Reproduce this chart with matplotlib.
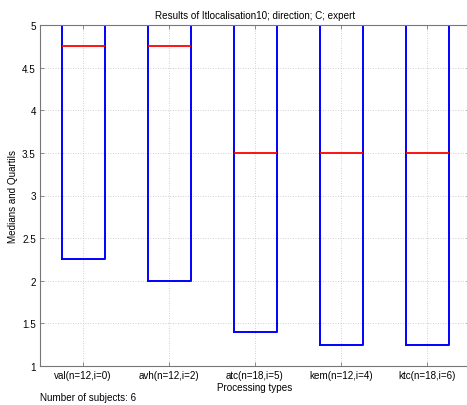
import matplotlib
matplotlib.use("Agg")
import matplotlib.pyplot as plt

plt.rcParams['font.family'] = ['Liberation Sans', 'DejaVu Sans']

categories = ["val(n=12,i=0)", "avh(n=12,i=2)", "atc(n=18,i=5)", "kem(n=12,i=4)", "ktc(n=18,i=6)"]
q1 = [2.25, 2.0, 1.4, 1.25, 1.25]
medians = [4.75, 4.75, 3.5, 3.5, 3.5]
q3 = [5.0, 5.0, 5.0, 5.0, 5.0]
yticks = [1, 1.5, 2, 2.5, 3, 3.5, 4, 4.5, 5]
ytick_labels = ["1", "1.5", "2", "2.5", "3", "3.5", "4", "4.5", "5"]

FS = 7.1
W, H = 467, 406
fig = plt.figure(figsize=(W / 100, H / 100), dpi=100)
left, right, top, bottom = 40, 470, 26, 367
ax = fig.add_axes([left / W, 1 - bottom / H, (right - left) / W, (bottom - top) / H])

stats = [
    {"med": m, "q1": a, "q3": b, "whislo": a, "whishi": b, "fliers": [], "label": c}
    for c, a, m, b in zip(categories, q1, medians, q3)
]
ax.bxp(stats, positions=range(1, len(categories) + 1), widths=0.5,
       showcaps=False, showfliers=False,
       boxprops=dict(color="#0000ff", linewidth=1.4),
       whiskerprops=dict(color="#0000ff", linewidth=1.4),
       medianprops=dict(color="#ff0000", linewidth=1.3))

ax.set_xlim(0.5, 5.5)
ax.set_ylim(1, 5)
ax.set_yticks(yticks)
ax.set_yticklabels(ytick_labels)
ax.set_xticks(range(1, len(categories) + 1))
ax.set_xticklabels(categories)

ax.grid(True, linestyle=(0, (1, 2)), color="#c0c0c0", linewidth=0.6)
ax.set_axisbelow(True)
for sp in ax.spines.values():
    sp.set_color("#777777")
    sp.set_linewidth(0.8)
ax.tick_params(direction="in", length=3, width=0.6, color="#777777",
               labelsize=FS, top=True, right=True, pad=3)

ax.set_title("Results of Itlocalisation10; direction; C; expert", fontsize=FS, pad=5)
ax.set_xlabel("Processing types", fontsize=FS, labelpad=1)
ax.set_ylabel("Medians and Quartils", fontsize=FS, labelpad=3)
fig.text(40 / W, 1 - 398 / H, "Number of subjects: 6", fontsize=FS, va="center", ha="left")

fig.savefig("out.png", dpi=100)
